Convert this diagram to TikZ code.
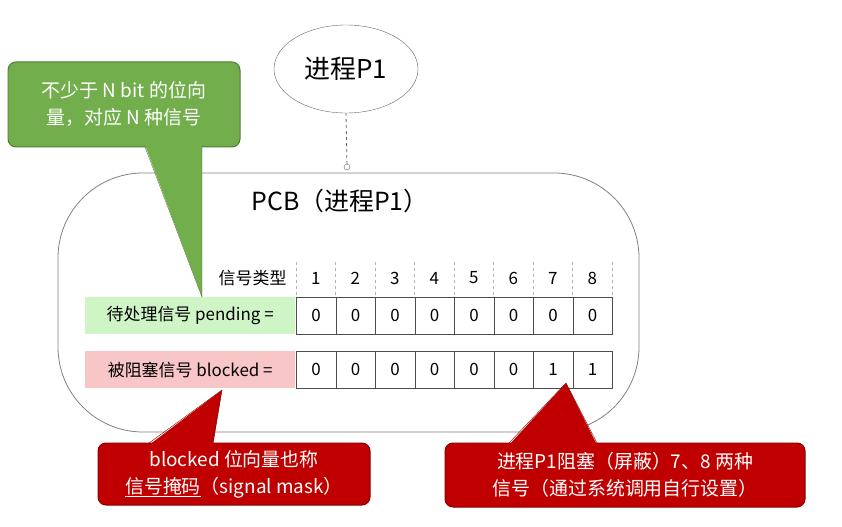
\documentclass[tikz,border=0pt]{standalone}
\usepackage{fontspec}
\setmainfont{Noto Sans CJK SC}
\usetikzlibrary{shapes.geometric}
\definecolor{cgreen}{HTML}{72AE4C}
\definecolor{lgreen}{HTML}{CFF5C6}
\definecolor{lpink}{HTML}{F8C6C6}
\definecolor{cred}{HTML}{C00000}
\begin{document}
\begin{tikzpicture}[x=1bp,y=-1bp,
  cell/.style={draw=black!70,line width=0.6pt,minimum width=39.5bp,minimum height=37bp,inner sep=0pt,anchor=north west,font=\fontsize{17}{18}\selectfont},
  hdr/.style={font=\fontsize{17}{18}\selectfont},
  lab/.style={anchor=north west,minimum width=210bp,minimum height=37bp,inner sep=4pt,align=right,font=\fontsize{17}{18}\selectfont},
  callout/.style={rounded corners=8bp,line width=1pt}]
\useasboundingbox (0,0) rectangle (842,527);
% process ellipse
\node[draw=black!60,ellipse,minimum width=144bp,minimum height=88bp,font=\fontsize{26}{28}\selectfont] (p1) at (346,69) {进程P1};
\coordinate (c) at (347,167);
\draw[black!60,dashed,line width=0.8pt] (p1.south) -- (c);
\draw[black!60,fill=white] (c) circle (3);
% PCB
\draw[black!50,line width=0.8pt,rounded corners=85bp] (58,173) rectangle (639,432);
\node[font=\fontsize{25}{28}\selectfont] (pcb) at (340,201) {PCB（进程P1）};
% rows
\node[lab,fill=lgreen] (lp) at (85,297) {待处理信号 pending =};
\node[lab,fill=lpink] (lb) at (85,351) {被阻塞信号 blocked =};
\node[hdr,anchor=east] (ht) at (290,278) {信号类型};
\foreach \i/\p/\b in {1/0/0,2/0/0,3/0/0,4/0/0,5/0/0,6/0/0,7/0/1,8/0/1}{
  \pgfmathsetmacro\xx{296+(\i-1)*39.5}
  \node[hdr] (h\i) at (\xx+19.75,278) {\i};
  \node[cell] (pc\i) at (\xx,297) {\p};
  \node[cell] (bc\i) at (\xx,351) {\b};
  \draw[black!30,dashed] (\xx,262) -- (\xx,297);
}
\draw[black!30,dashed] (612,262) -- (612,297);
% green callout
\draw[callout,fill=cgreen,draw=cgreen!70!black] (8,62) rectangle (240,147);
\fill[cgreen] (145,145) -- (202,297) -- (202,145) -- cycle;
\draw[cgreen!70!black] (145,147) -- (202,297) -- (202,147);
\node[text=white,align=center,font=\fontsize{19}{27}\selectfont] (gt) at (124,104) {不少于 N bit 的位向\\量，对应 N 种信号};
% red callout 1
\draw[callout,fill=cred,draw=cred!70!black] (98,443) rectangle (370,505);
\fill[cred] (149,445) -- (222,390) -- (213,445) -- cycle;
\draw[cred!70!black] (149,443) -- (222,390) -- (213,443);
\node[text=white,align=center,font=\fontsize{19}{27}\selectfont] (r1) at (234,474) {blocked 位向量也称\\\underline{信号掩码}（signal mask）};
% red callout 2
\draw[callout,fill=cred,draw=cred!70!black] (445,443) rectangle (805,507);
\fill[cred] (509,445) -- (566,383) -- (597,445) -- cycle;
\draw[cred!70!black] (509,443) -- (566,383) -- (597,443);
\node[text=white,align=center,font=\fontsize{19}{27}\selectfont] (r2) at (625,475) {进程P1阻塞（屏蔽）7、8 两种\\信号（通过系统调用自行设置）};
\end{tikzpicture}
\end{document}
